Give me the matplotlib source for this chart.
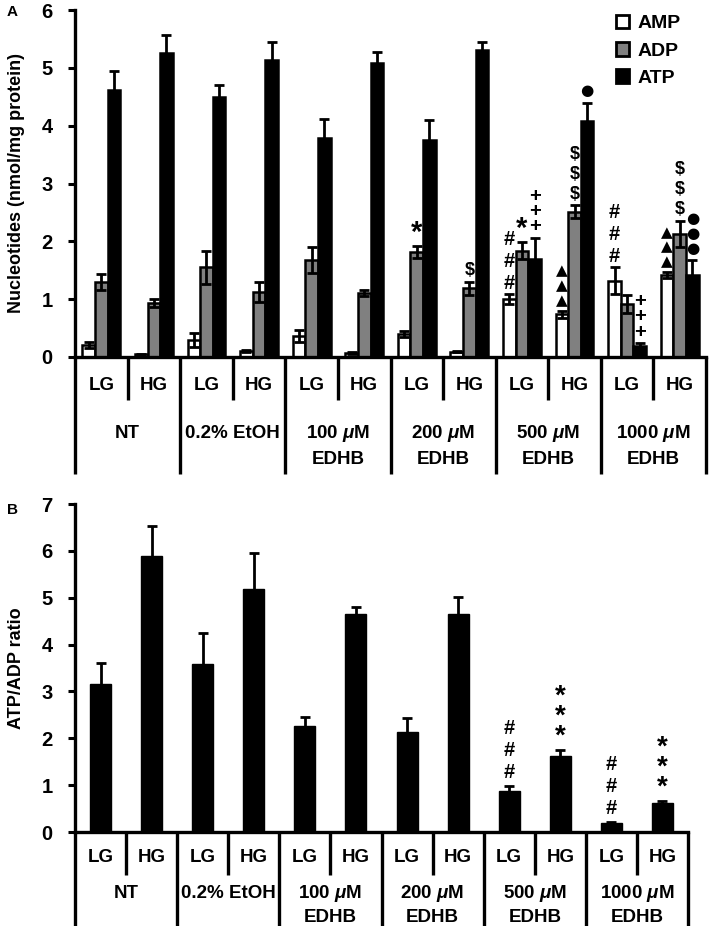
import matplotlib
matplotlib.use("Agg")
import matplotlib.pyplot as plt
from matplotlib.patches import Patch
import numpy as np

plt.rcParams['font.family'] = ['Liberation Sans', 'DejaVu Sans']
plt.rcParams['font.weight'] = 'bold'
plt.rcParams['mathtext.fontset'] = 'custom'
plt.rcParams['mathtext.it'] = 'Liberation Sans:italic:bold'
plt.rcParams['mathtext.rm'] = 'Liberation Sans:bold'

# ---------------- data ----------------
groups = ["NT", "0.2% EtOH", "100 $\\mu$M\nEDHB", "200 $\\mu$M\nEDHB",
          "500 $\\mu$M\nEDHB", "1000 $\\mu$M\nEDHB"]
subcats = ["LG", "HG"]
series = ["AMP", "ADP", "ATP"]

amp = [0.21, 0.05, 0.29, 0.10, 0.36, 0.07, 0.40, 0.09, 1.00, 0.74, 1.32, 1.42]
amp_err = [0.05, 0.01, 0.12, 0.02, 0.10, 0.01, 0.05, 0.01, 0.09, 0.06, 0.23, 0.05]
adp = [1.30, 0.93, 1.55, 1.12, 1.68, 1.11, 1.82, 1.19, 1.84, 2.51, 0.92, 2.13]
adp_err = [0.14, 0.07, 0.28, 0.17, 0.22, 0.05, 0.10, 0.11, 0.15, 0.11, 0.16, 0.23]
atp = [4.62, 5.26, 4.50, 5.13, 3.78, 5.08, 3.76, 5.31, 1.69, 4.08, 0.19, 1.41]
atp_err = [0.33, 0.31, 0.20, 0.31, 0.34, 0.20, 0.33, 0.14, 0.37, 0.32, 0.05, 0.26]

ratio = [3.16, 5.89, 3.58, 5.18, 2.26, 4.65, 2.13, 4.65, 0.87, 1.62, 0.19, 0.62]
ratio_err = [0.45, 0.65, 0.66, 0.77, 0.19, 0.15, 0.30, 0.36, 0.11, 0.13, 0.03, 0.04]

# significance marks panel A: (category, series index, symbol, count)
marks_a = [(6, 1, "*", 1), (7, 1, "$", 1),
           (8, 0, "#", 3), (8, 1, "*", 1), (8, 2, "+", 3),
           (9, 0, "\u25B2", 3), (9, 1, "$", 3), (9, 2, "\u25CF", 1),
           (10, 0, "#", 3), (10, 2, "+", 3),
           (11, 0, "\u25B2", 3), (11, 1, "$", 3), (11, 2, "\u25CF", 3)]
# panel B: (category, symbol, count)
marks_b = [(8, "#", 3), (9, "*", 3), (10, "#", 3), (11, "*", 3)]

# symbol styles: fontsize, linespacing, family, offset(pt)
sym_style_a = {"#": (14.5, 1.2, 'Liberation Sans', 1),
               "*": (21, 1.0, 'Liberation Sans', -1),
               "$": (13, 1.22, 'Liberation Sans', 2),
               "+": (14.5, 0.76, 'Liberation Sans', 1),
               "\u25B2": (11, 0.98, 'DejaVu Sans', 2),
               "\u25CF": (11, 1.0, 'DejaVu Sans', 3)}
sym_style_b = {"#": (14.5, 1.2, 'Liberation Sans', 3),
               "*": (20, 0.72, 'Liberation Sans', 0)}

W, H = 709, 926
fig = plt.figure(figsize=(W / 100, H / 100), dpi=100)

def fx(px):
    return px / W

def fy(py):
    return 1 - py / H

axA = fig.add_axes([fx(75), fy(357), fx(706 - 75), (357 - 10) / H])
axB = fig.add_axes([fx(75), fy(832), fx(688 - 75), (832 - 504) / H])

n = len(amp)
xc = np.arange(n) + 0.5
LABEL_FS = 13.5

def style_axis(ax, ymax):
    ax.set_xlim(0, n)
    ax.set_ylim(0, ymax)
    ax.set_yticks(range(0, ymax + 1))
    for s in ['top', 'right']:
        ax.spines[s].set_visible(False)
    for s in ['left', 'bottom']:
        ax.spines[s].set_linewidth(2.4)
    ax.tick_params(axis='y', direction='out', length=5, width=2.2, pad=11,
                   labelsize=14.5)
    ax.tick_params(axis='x', length=0, labelbottom=False)
    for lab in ax.get_yticklabels():
        lab.set_fontweight('bold')

def category_labels(ax, short_end, long_end, y_sub, y_g1, y_g2):
    tr = ax.get_xaxis_transform()
    for i in range(n + 1):
        end = long_end if i % 2 == 0 else short_end
        ax.plot([i, i], [0, end], transform=tr, color='black', lw=2.4,
                clip_on=False, solid_capstyle='butt')
    for i in range(n):
        ax.text(i + 0.5, y_sub, subcats[i % 2], transform=tr, ha='center',
                va='center', fontsize=LABEL_FS, fontweight='bold')
    for g, name in enumerate(groups):
        lines = name.split("\n")
        ax.text(2 * g + 1, y_g1, lines[0], transform=tr, ha='center',
                va='center', fontsize=LABEL_FS, fontweight='bold')
        if len(lines) > 1:
            ax.text(2 * g + 1, y_g2, lines[1], transform=tr, ha='center',
                    va='center', fontsize=LABEL_FS, fontweight='bold')

# ---------------- panel A ----------------
bw = 0.24
vals = [amp, adp, atp]
errs = [amp_err, adp_err, atp_err]
colors = ['white', '#808080', 'black']
offsets = [-bw, 0, bw]
ekw = dict(ecolor='black', elinewidth=2.0, capsize=3.5, capthick=2.0)
for k in range(3):
    axA.bar(xc + offsets[k], vals[k], width=bw, color=colors[k],
            edgecolor='black', linewidth=1.8, yerr=errs[k],
            error_kw=ekw, label=series[k], zorder=2)

style_axis(axA, 6)
category_labels(axA, -(400 - 357) / 347, -(474 - 357) / 347,
                -(386 - 357) / 347, -(433 - 357) / 347, -(459 - 357) / 347)

for cat, s, sym, cnt in marks_a:
    fs, ls, fam, off = sym_style_a[sym]
    top = vals[s][cat] + errs[s][cat]
    axA.annotate("\n".join([sym] * cnt), (xc[cat] + offsets[s], top),
                 xytext=(0, off), textcoords='offset points',
                 ha='center', va='bottom', fontsize=fs, linespacing=ls,
                 multialignment='center', fontweight='bold', family=fam)

handles = [Patch(facecolor=colors[k], edgecolor='black', linewidth=2.0,
                 label=series[k]) for k in range(3)]
leg = fig.legend(handles=handles, loc='upper left',
                 bbox_to_anchor=(fx(602), fy(1)), frameon=False,
                 prop={'weight': 'bold', 'size': 14}, handlelength=0.7,
                 handleheight=0.7, handletextpad=0.45, labelspacing=0.5,
                 borderpad=0.2)

fig.text(fx(17), fy(183), "Nucleotides (nmol/mg protein)", rotation=90,
         ha='center', va='center', fontsize=13, fontweight='bold')
fig.text(fx(12), fy(12), "A", ha='center', va='center', fontsize=11,
         fontweight='bold')

# ---------------- panel B ----------------
axB.bar(xc, ratio, width=0.41, color='black', edgecolor='black',
        yerr=ratio_err, error_kw=ekw, zorder=2)
style_axis(axB, 7)
category_labels(axB, -(875 - 832) / 328, -(926 - 832) / 328,
                -(858 - 832) / 328, -(893 - 832) / 328, -(918 - 832) / 328)

for cat, sym, cnt in marks_b:
    fs, ls, fam, off = sym_style_b[sym]
    top = ratio[cat] + ratio_err[cat]
    axB.annotate("\n".join([sym] * cnt), (xc[cat], top), xytext=(0, off),
                 textcoords='offset points', ha='center', va='bottom',
                 fontsize=fs, linespacing=ls, multialignment='center',
                 fontweight='bold', family=fam)

fig.text(fx(17), fy(668), "ATP/ADP ratio", rotation=90, ha='center',
         va='center', fontsize=13, fontweight='bold')
fig.text(fx(12), fy(510), "B", ha='center', va='center', fontsize=11,
         fontweight='bold')

fig.savefig("out.png", dpi=100)
